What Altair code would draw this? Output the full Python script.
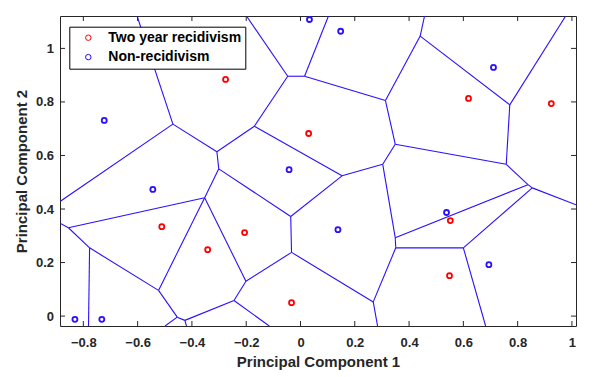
import altair as alt
import pandas as pd

# axis limits
x_domain = [-0.886, 1.015]
y_domain = [-0.037, 1.121]
x_ticks = [-0.8, -0.6, -0.4, -0.2, 0.0, 0.2, 0.4, 0.6, 0.8, 1.0]
y_ticks = [0.0, 0.2, 0.4, 0.6, 0.8, 1.0]

# class points
red_x = [-0.276, 0.030, 0.619, 0.924, -0.511, -0.342, -0.206, -0.033, 0.552, 0.549]
red_y = [0.884, 0.682, 0.813, 0.794, 0.334, 0.248, 0.312, 0.050, 0.357, 0.151]
blue_x = [0.033, 0.148, 0.711, -0.723, -0.042, -0.544, 0.138, 0.538, 0.694, -0.831, -0.732]
blue_y = [1.108, 1.064, 0.929, 0.731, 0.547, 0.473, 0.323, 0.387, 0.192, -0.012, -0.012]

# Voronoi vertices
vertices = {
    "V1": (-0.470, 0.717), "V2": (-0.308, 0.614), "V3": (-0.170, 0.709),
    "V4": (-0.047, 0.896), "V5": (0.015, 0.896), "V6": (0.313, 0.805),
    "V7": (0.153, 0.524), "V8": (0.441, 1.046), "V9": (0.771, 0.789),
    "V10": (0.758, 0.567), "V11": (0.349, 0.642), "V12": (0.303, 0.567),
    "V13": (0.349, 0.293), "V14": (0.351, 0.255), "V15": (0.838, 0.491),
    "V16": (0.854, 0.479), "V17": (0.600, 0.255), "V18": (0.268, 0.053),
    "V19": (-0.033, 0.238), "V20": (-0.036, 0.372), "V21": (-0.301, 0.550),
    "V22": (-0.353, 0.442), "V23": (-0.855, 0.330), "V24": (-0.777, 0.255),
    "V25": (-0.523, 0.096), "V26": (-0.201, 0.130), "V27": (-0.245, 0.058),
    "V28": (-0.426, -0.016), "V29": (-0.454, -0.004),
    # edge ends at the axes box
    "B1": (-0.602, 1.121), "B2": (-0.886, 0.428), "B3": (-0.199, 1.121),
    "B4": (0.103, 1.121), "B5": (0.457, 1.121), "B6": (0.977, 1.121),
    "B7": (1.015, 0.416), "B8": (0.682, -0.037), "B9": (0.284, -0.037),
    "B10": (-0.115, -0.037), "B11": (-0.420, -0.037), "B12": (-0.499, -0.037),
    "B13": (-0.781, -0.037), "B14": (-0.886, 0.347),
    "C1": (-0.895, -0.026), "C2": (-0.874, -0.045),
}
edges = [
    ("V1", "B1"), ("V1", "B2"), ("V1", "V2"), ("V2", "V3"), ("V3", "V4"),
    ("V4", "B3"), ("V4", "V5"), ("V5", "B4"), ("V5", "V6"), ("V3", "V7"),
    ("V6", "V8"), ("V8", "B5"), ("V8", "V9"), ("V9", "B6"), ("V9", "V10"),
    ("V6", "V11"), ("V11", "V10"), ("V11", "V12"), ("V12", "V7"), ("V12", "V13"),
    ("V13", "V14"), ("V13", "V15"), ("V10", "V15"), ("V15", "V16"), ("V16", "B7"),
    ("V16", "V17"), ("V14", "V17"), ("V17", "B8"), ("V14", "V18"), ("V18", "B9"),
    ("V18", "V19"), ("V19", "V20"), ("V20", "V7"), ("V20", "V21"), ("V2", "V21"),
    ("V21", "V22"), ("V22", "V23"), ("V23", "B14"), ("V23", "V24"), ("V24", "B13"),
    ("V24", "V25"), ("V25", "V22"), ("V22", "V26"), ("V26", "V19"), ("V26", "V27"),
    ("V27", "B10"), ("V27", "V28"), ("V28", "B11"), ("V28", "V29"), ("V29", "B12"),
    ("V25", "V29"), ("C1", "C2"),
]

LINE_BLUE = "#2a10ff"
PT_BLUE = "#2a10ff"
RED = "#ff0000"
AXC = "#262626"
FONT = "Liberation Sans"

seg_df = pd.DataFrame([
    {"x": vertices[a][0], "y": vertices[a][1], "x2": vertices[b][0], "y2": vertices[b][1]}
    for a, b in edges
])
pts_df = pd.DataFrame(
    [{"x": x, "y": y, "cls": "Two year recidivism"} for x, y in zip(red_x, red_y)]
    + [{"x": x, "y": y, "cls": "Non-recidivism"} for x, y in zip(blue_x, blue_y)]
)
xt_df = pd.DataFrame({"x": x_ticks})
yt_df = pd.DataFrame({"y": y_ticks})

W, H = 516, 310

xs = alt.Scale(domain=x_domain, nice=False, zero=False)
ys = alt.Scale(domain=y_domain, nice=False, zero=False)
xaxis = alt.Axis(values=x_ticks, format=".1~f", domain=False, ticks=False, grid=False,
                 labelPadding=10, title="Principal Component 1", titleX=W / 2, titleY=40.5,
                 titleBaseline="alphabetic", titleAlign="center")
yaxis = alt.Axis(values=y_ticks, format=".1~f", domain=False, ticks=False, grid=False,
                 labelPadding=6.5, title="Principal Component 2", titleX=-33.3, titleY=H / 2,
                 titleAngle=270, titleBaseline="alphabetic", titleAlign="center")
X = alt.X("x:Q", scale=xs, axis=xaxis)
Y = alt.Y("y:Q", scale=ys, axis=yaxis)

edges_layer = alt.Chart(seg_df).mark_rule(color=LINE_BLUE, strokeWidth=1.1, clip=True).encode(
    x=X, y=Y, x2="x2:Q", y2="y2:Q",
)

xt_bottom = alt.Chart(xt_df).mark_rule(color=AXC, strokeWidth=1).encode(
    x=X, y=alt.value(H), y2=alt.value(H - 5))
xt_top = alt.Chart(xt_df).mark_rule(color=AXC, strokeWidth=1).encode(
    x=X, y=alt.value(0), y2=alt.value(5))
yt_left = alt.Chart(yt_df).mark_rule(color=AXC, strokeWidth=1).encode(
    y=Y, x=alt.value(0), x2=alt.value(5))
yt_right = alt.Chart(yt_df).mark_rule(color=AXC, strokeWidth=1).encode(
    y=Y, x=alt.value(W), x2=alt.value(W - 5))

points = alt.Chart(pts_df).mark_point(shape="circle", filled=False, size=25,
                                      strokeWidth=1.8, opacity=1).encode(
    x=X,
    y=Y,
    color=alt.Color("cls:N",
                    scale=alt.Scale(domain=["Two year recidivism", "Non-recidivism"],
                                    range=[RED, PT_BLUE]),
                    legend=alt.Legend(
                        title=None, orient="none", legendX=9.3, legendY=10.7,
                        direction="vertical", fillColor="white", strokeColor="black",
                        padding=4, symbolType="circle", symbolSize=30,
                        symbolStrokeWidth=1, symbolOffset=8, labelOffset=13,
                        labelFont=FONT, labelFontWeight="bold", labelFontSize=14,
                        labelColor="black", rowPadding=5.4)),
)

chart = alt.layer(edges_layer, xt_bottom, xt_top, yt_left, yt_right, points).properties(
    width=W, height=H,
    padding={"left": 52, "top": 8, "right": 20, "bottom": 45},
    autosize=alt.AutoSizeParams(type="none"),
).configure_view(stroke=AXC, strokeWidth=1).configure_axis(
    labelFont=FONT, labelFontWeight="bold", labelFontSize=13, labelColor=AXC,
    titleFont=FONT, titleFontWeight="bold", titleFontSize=15, titleColor=AXC,
)

chart.save("out.html", embed_options={"renderer": "svg", "actions": False})
